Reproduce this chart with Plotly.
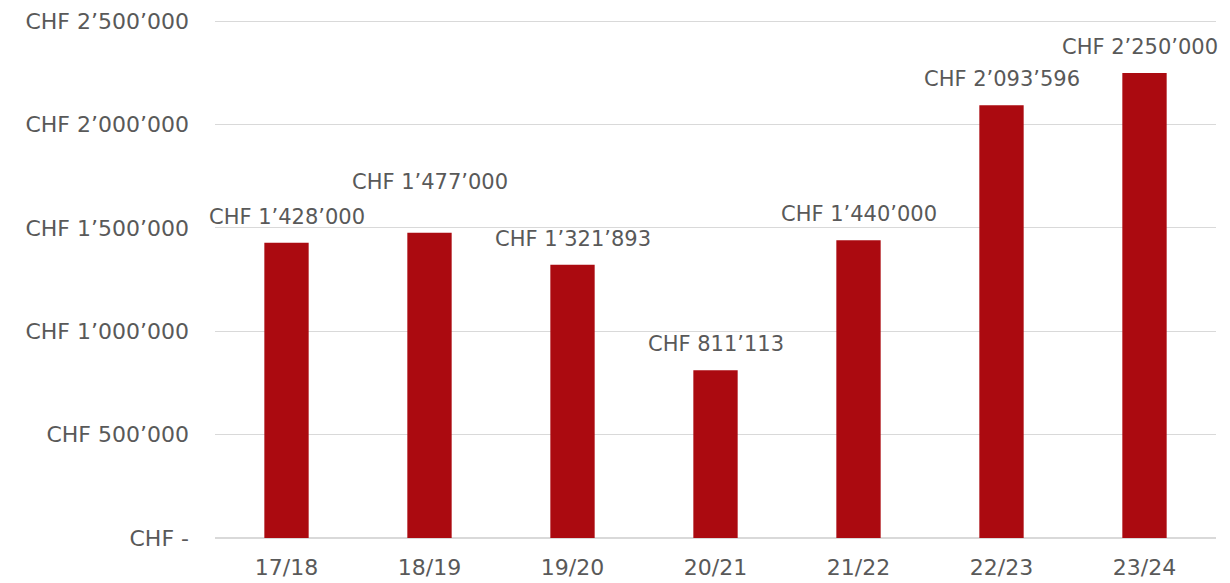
import plotly.graph_objects as go

seasons = ["17/18", "18/19", "19/20", "20/21", "21/22", "22/23", "23/24"]
amounts = [1428000, 1477000, 1321893, 811113, 1440000, 2093596, 2250000]
y_ticks = [0, 500000, 1000000, 1500000, 2000000, 2500000]
y_tick_labels = ["CHF -", "CHF 500’000", "CHF 1’000’000", "CHF 1’500’000",
                 "CHF 2’000’000", "CHF 2’500’000"]

BAR = "#AB0A10"
TXT = "#595959"
GRID = "#D9D9D9"
FONT = "DejaVu Sans"
FS = 22
LFS = 21


def chf(v):
    return "CHF " + f"{v:,}".replace(",", "’")


fig = go.Figure()
fig.add_trace(go.Bar(
    x=seasons, y=amounts, marker=dict(color=BAR, line=dict(width=0)),
    width=0.31, hoverinfo="skip",
))

last = len(seasons) - 1
for i, (s, v) in enumerate(zip(seasons, amounts)):
    fig.add_annotation(
        x=s, y=v, text=chf(v), showarrow=False,
        yanchor="middle", yshift=51 if i == 1 else 26,
        xshift=-5 if i == last else 0,
        font=dict(family=FONT, size=LFS, color=TXT),
    )

fig.update_layout(
    width=1230, height=583,
    margin=dict(l=207, r=22, t=12, b=53),
    paper_bgcolor="white", plot_bgcolor="white",
    showlegend=False,
    font=dict(family=FONT, size=FS, color=TXT),
)
fig.update_xaxes(
    range=[-0.5, len(seasons) - 0.5],
    showgrid=False, showline=False, zeroline=False, automargin=False,
    ticks="", ticklabelstandoff=14,
    tickfont=dict(family=FONT, size=FS, color=TXT),
)
fig.update_yaxes(
    range=[0, 2506000], tickvals=y_ticks, ticktext=y_tick_labels,
    showgrid=True, gridcolor=GRID, gridwidth=1.3, automargin=False,
    zeroline=True, zerolinecolor=GRID, zerolinewidth=2,
    showline=False, ticks="", ticklabelstandoff=25,
    tickfont=dict(family=FONT, size=FS, color=TXT),
)

fig.write_html("out.html")
